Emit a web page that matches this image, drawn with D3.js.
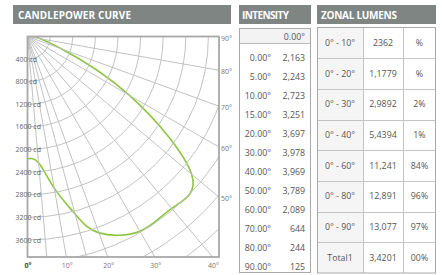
<!DOCTYPE html>
<html>
<head>
<meta charset="utf-8">
<script src="https://cdn.jsdelivr.net/npm/d3@7"></script>
<style>
body { margin: 0; background: #fff; }
text { font-family: "Open Sans", sans-serif; }
</style>
</head>
<body>
<main></main>
<script>
// intensity per angle (table + curve)
const angles = [0, 5, 10, 15, 20, 30, 40, 50, 60, 70, 80, 90];
const intensity = [2163, 2243, 2723, 3251, 3697, 3978, 3969, 3789, 2089, 644, 244, 125];

const cdTicks = [400, 800, 1200, 1600, 2000, 2400, 2800, 3200, 3600];
const bottomTicks = [0, 10, 20, 30, 40];
const rightTicks = [50, 60, 70, 80, 90];

const zonalRanges = ['0° - 10°', '0° - 20°', '0° - 30°', '0° - 40°', '0° - 60°', '0° - 80°', '0° - 90°', 'Total1'];
const zonalLumens = ['2362', '1,1779', '2,9892', '5,4394', '11,241', '12,891', '13,077', '3,4201'];
const zonalPercent = ['%', '%', '2%', '1%', '84%', '96%', '97%', '00%'];

const headerGray = '#7e8583';
const textGray = '#555';

const svg = d3.select('main')
    .append('svg')
    .attr('width', 442)
    .attr('height', 275);

// ---- candlepower curve ----
const cx = 27.5, cy = 36.5, fw = 191.5, fh = 220.5;

svg.append('rect')
    .attr('x', 13).attr('y', 5).attr('width', 218).attr('height', 19)
    .attr('fill', headerGray);
svg.append('text')
    .attr('x', 18).attr('y', 18.5)
    .attr('fill', '#fff').attr('font-weight', 700).attr('font-size', 10)
    .attr('textLength', 113)
    .text('CANDLEPOWER CURVE');

svg.append('clipPath').attr('id', 'frame')
    .append('rect').attr('x', cx).attr('y', cy).attr('width', fw).attr('height', fh);

const rScale = d3.scaleLinear().domain([0, 3600]).range([0, 203.5]);
const aScale = d3.scaleLinear().domain([0, 90]).range([Math.PI, Math.PI / 2]);

const plot = svg.append('g').attr('transform', `translate(${cx}, ${cy})`);
const grid = svg.append('g').attr('clip-path', 'url(#frame)')
    .append('g').attr('transform', `translate(${cx}, ${cy})`);

// arcs
d3.range(400, 6000, 400).forEach((v) => {
    const p = d3.path();
    p.arc(0, 0, rScale(v), 0, Math.PI / 2);
    grid.append('path')
        .attr('d', p.toString())
        .attr('fill', 'none')
        .attr('stroke', '#c2c2c2')
        .attr('stroke-width', 1);
});

// spokes
grid.selectAll('.spoke')
    .data(angles)
    .enter()
    .append('line')
    .attr('x1', 0).attr('y1', 0)
    .attr('x2', (d) => 400 * Math.sin(aScale(d)))
    .attr('y2', (d) => -400 * Math.cos(aScale(d)))
    .attr('stroke', '#c2c2c2')
    .attr('stroke-width', 1);

// frame
svg.append('rect')
    .attr('x', cx).attr('y', cy).attr('width', fw).attr('height', fh)
    .attr('fill', 'none')
    .attr('stroke', '#a8a8a8')
    .attr('stroke-width', 1.8);

// curve
const curve = d3.lineRadial()
    .angle((d) => aScale(d[0]))
    .radius((d) => rScale(d[1]))
    .curve(d3.curveNatural);

plot.append('path')
    .datum(d3.zip(angles, intensity))
    .attr('d', curve)
    .attr('fill', 'none')
    .attr('stroke', '#8cc63f')
    .attr('stroke-width', 1.6);

// cd labels
svg.selectAll('.cd')
    .data(cdTicks)
    .enter()
    .append('text')
    .attr('x', 15.5)
    .attr('y', (d) => cy + rScale(d) + 2.5)
    .attr('font-size', 7)
    .attr('fill', '#666')
    .text((d) => `${d} cd`);

svg.selectAll('.bt')
    .data(bottomTicks)
    .enter()
    .append('text')
    .attr('x', (d) => cx + fh * Math.tan(d * Math.PI / 180) + (d === 0 ? 0.5 : 1))
    .attr('y', 267.5)
    .attr('text-anchor', 'middle')
    .attr('font-size', 7)
    .attr('font-weight', (d) => d === 0 ? 700 : 400)
    .attr('fill', (d) => d === 0 ? '#444' : '#777')
    .text((d) => `${d}°`);

svg.selectAll('.rt')
    .data(rightTicks)
    .enter()
    .append('text')
    .attr('x', cx + fw + 2)
    .attr('y', (d) => cy + (d === 90 ? 0 : fw / Math.tan(d * Math.PI / 180)) + 4)
    .attr('font-size', 7)
    .attr('fill', '#777')
    .text((d) => `${d}°`);

// ---- intensity table ----
const ix0 = 239, ix1 = 311;
svg.append('rect')
    .attr('x', ix0).attr('y', 5).attr('width', ix1 - ix0).attr('height', 19)
    .attr('fill', headerGray);
svg.append('text')
    .attr('x', 242).attr('y', 18.5)
    .attr('fill', '#fff').attr('font-weight', 700).attr('font-size', 10)
    .attr('textLength', 47)
    .text('INTENSITY');

svg.append('rect')
    .attr('x', ix0 + 0.5).attr('y', 28.5).attr('width', ix1 - ix0 - 1).attr('height', 15)
    .attr('fill', '#f3f3f3');
svg.append('line')
    .attr('x1', ix0).attr('x2', ix1).attr('y1', 43.5).attr('y2', 43.5)
    .attr('stroke', '#bbb');
svg.append('rect')
    .attr('x', ix0 + 0.5).attr('y', 28.5).attr('width', ix1 - ix0 - 1).attr('height', 244)
    .attr('fill', 'none')
    .attr('stroke', '#a8a8a8');
svg.append('text')
    .attr('x', 305).attr('y', 39.5)
    .attr('text-anchor', 'end')
    .attr('font-size', 8.8)
    .attr('fill', textGray)
    .text('0.00°');

const rowScale = d3.scaleBand().domain(angles).range([48.5, 276.5]);
const rows = svg.selectAll('.irow')
    .data(d3.zip(angles, intensity))
    .enter()
    .append('g')
    .attr('transform', (d) => `translate(0, ${rowScale(d[0]) + rowScale.bandwidth() / 2})`);
rows.append('text')
    .attr('x', 271).attr('dy', '0.35em')
    .attr('text-anchor', 'end')
    .attr('font-size', 8.8)
    .attr('fill', textGray)
    .text((d) => `${d3.format('.2f')(d[0])}°`);
rows.append('text')
    .attr('x', 305).attr('dy', '0.35em')
    .attr('text-anchor', 'end')
    .attr('font-size', 8.8)
    .attr('fill', textGray)
    .text((d) => d3.format(',')(d[1]));

// ---- zonal lumens table ----
const zx = [317, 363, 403, 436];
svg.append('rect')
    .attr('x', zx[0]).attr('y', 5).attr('width', zx[3] - zx[0]).attr('height', 19)
    .attr('fill', headerGray);
svg.append('text')
    .attr('x', 321).attr('y', 18.5)
    .attr('fill', '#fff').attr('font-weight', 700).attr('font-size', 10)
    .attr('textLength', 76)
    .text('ZONAL LUMENS');

const zRow = d3.scaleBand().domain(zonalRanges).range([27.5, 273]);
svg.selectAll('.zbg')
    .data(zonalRanges)
    .enter()
    .append('rect')
    .attr('x', zx[0]).attr('y', (d) => zRow(d))
    .attr('width', zx[1] - zx[0]).attr('height', zRow.bandwidth())
    .attr('fill', '#f5f5f5');

svg.selectAll('.zh')
    .data(zonalRanges.slice(1))
    .enter()
    .append('line')
    .attr('x1', zx[0]).attr('x2', zx[3])
    .attr('y1', (d) => Math.round(zRow(d)) + 0.5)
    .attr('y2', (d) => Math.round(zRow(d)) + 0.5)
    .attr('stroke', '#c4c4c4');
svg.selectAll('.zv')
    .data(zx.slice(1, 3))
    .enter()
    .append('line')
    .attr('x1', (d) => d + 0.5).attr('x2', (d) => d + 0.5)
    .attr('y1', 27.5).attr('y2', 273)
    .attr('stroke', '#c4c4c4');
svg.append('rect')
    .attr('x', zx[0] + 0.5).attr('y', 27.5).attr('width', zx[3] - zx[0] - 1).attr('height', 245.5)
    .attr('fill', 'none')
    .attr('stroke', '#a8a8a8');

const zcols = [zonalRanges, zonalLumens, zonalPercent];
zcols.forEach((col, ci) => {
    svg.selectAll(`.zc${ci}`)
        .data(col)
        .enter()
        .append('text')
        .attr('x', (zx[ci] + zx[ci + 1]) / 2)
        .attr('y', (d, i) => zRow(zonalRanges[i]) + zRow.bandwidth() / 2)
        .attr('dy', '0.35em')
        .attr('text-anchor', 'middle')
        .attr('font-size', 8.8)
        .attr('fill', textGray)
        .text((d) => d);
});
</script>
</body>
</html>
